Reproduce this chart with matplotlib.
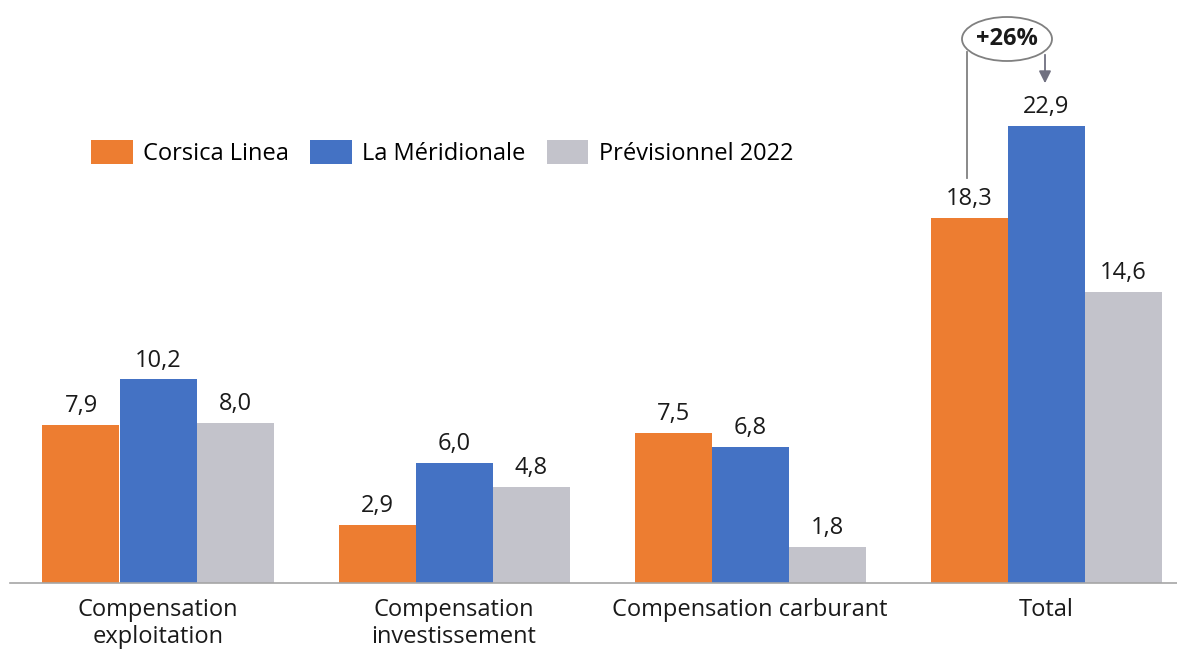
import numpy as np
from matplotlib import pyplot as plt
from matplotlib.patches import Ellipse

categories = ["Compensation\nexploitation", "Compensation\ninvestissement",
              "Compensation carburant", "Total"]
series = ["Corsica Linea", "La Méridionale", "Prévisionnel 2022"]
corsica = [7.9, 2.9, 7.5, 18.3]
meridionale = [10.2, 6.0, 6.8, 22.9]
previsionnel = [8.0, 4.8, 1.8, 14.6]
colors = ["#ED7D31", "#4472C4", "#C3C3CB"]

plt.rcParams['font.family'] = ['Open Sans', 'DejaVu Sans']

W, H = 1177, 650
fig = plt.figure(figsize=(W / 100, H / 100), dpi=100)
# axes in pixel coords: x from 10 to 1194 (clipped), baseline at y=583
ax = fig.add_axes([10 / W, (H - 583) / H, 1184 / W, 457 / H])
ax.set_xlim(-0.5, 3.5)
ax.set_ylim(0, 22.9)

x = np.arange(len(categories))
bw = 77 / 296
for k, (vals, col) in enumerate(zip([corsica, meridionale, previsionnel], colors)):
    pos = x + (k - 1) * bw
    ax.bar(pos, vals, width=bw, color=col, label=series[k], clip_on=False)
    for p, v in zip(pos, vals):
        ax.annotate("{:.1f}".format(v).replace(".", ","), (p, v),
                    xytext=(0, 5), textcoords="offset points",
                    ha="center", va="bottom", fontsize=17, color="#1a1a1a")

for s in ["top", "right", "left"]:
    ax.spines[s].set_visible(False)
ax.spines["bottom"].set_color("#a6a6a6")
ax.spines["bottom"].set_linewidth(1.2)
ax.set_yticks([])
ax.set_xticks(x)
ax.set_xticklabels(categories, fontsize=17, color="#1a1a1a", linespacing=1.15)
ax.tick_params(axis="x", length=0, pad=11)

leg = fig.legend(loc="center left", bbox_to_anchor=(70 / W, 1 - 153 / H), ncol=3,
                 frameon=False, fontsize=17, handlelength=1.75, handleheight=1.2,
                 handletextpad=0.45, columnspacing=0.9)

# +26% annotation (figure pixel coords)
tr = fig.transFigure
def fx(px):
    return px / W
def fy(py):
    return 1 - py / H

ell = Ellipse((fx(1007), fy(39)), 90 / W, 44 / H, transform=tr,
              facecolor="white", edgecolor="#808080", lw=1.3)
fig.patches.append(ell)
fig.text(fx(1007), fy(39), "+26%", ha="center", va="center",
         fontsize=17, fontweight="bold", color="#1a1a1a")
fig.add_artist(plt.Line2D([fx(967), fx(967)], [fy(52), fy(178)],
                          transform=tr, color="#808080", lw=1.3))
ax.annotate("", xy=(fx(1045), fy(86)), xycoords="figure fraction",
            xytext=(fx(1045), fy(52)), textcoords="figure fraction",
            arrowprops=dict(arrowstyle="-|>", color="#707080", lw=1.3,
                            mutation_scale=18))

fig.savefig("out.png", dpi=100)
